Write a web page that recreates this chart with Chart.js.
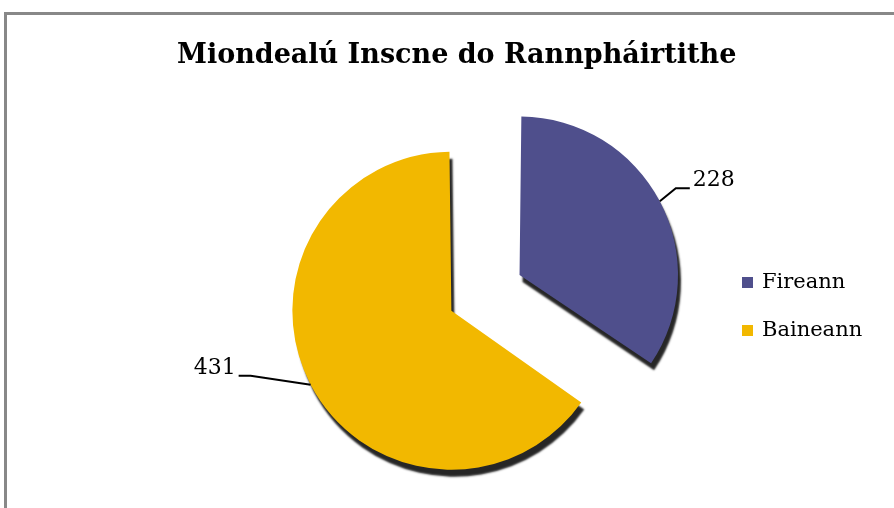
<!DOCTYPE html>
<html>
<head>
<meta charset="utf-8">
<script src="https://cdn.jsdelivr.net/npm/chart.js@4.4.0/dist/chart.umd.min.js"></script>
<style>
html, body { margin: 0; padding: 0; overflow: hidden; background: #fff; }
#frame { position: absolute; left: 4px; top: 12px; width: 1000px; height: 600px;
         border-left: 3px solid #888; border-top: 3px solid #888; }
#pieChart { position: absolute; left: 0; top: 0; }
</style>
</head>
<body>
<div id="frame"></div>
<canvas id="pieChart" width="894" height="550"></canvas>
<script>
"use strict";

var chartTitle = "Miondealú Inscne do Rannpháirtithe";
var categories = ["Fireann", "Baineann"];
var counts = [228, 431];
var colours = ["#4f4f8c", "#f2b800"];

var serif = "'DejaVu Serif', serif";

// dark drop shadow under the slices (stands in for the 3D edge)
var shadowPlugin = {
    id: 'pieShadow',
    beforeDatasetDraw: function (chart) {
        var ctx = chart.ctx;
        ctx.save();
        ctx.shadowColor = 'rgba(0,0,0,0.85)';
        ctx.shadowOffsetX = 3;
        ctx.shadowOffsetY = 7;
        ctx.shadowBlur = 2;
    },
    afterDatasetDraw: function (chart) {
        chart.ctx.restore();
    }
};

// value labels with bent leader lines
// (follows the arc's own offset maths: shift = offset/4, radius grows for wide slices)
var labelPlugin = {
    id: 'leaderLabels',
    afterDatasetsDraw: function (chart, args, opts) {
        var ctx = chart.ctx;
        var meta = chart.getDatasetMeta(0);
        ctx.save();
        ctx.strokeStyle = '#000';
        ctx.fillStyle = '#000';
        ctx.lineWidth = 2;
        ctx.font = opts.font;
        ctx.textBaseline = 'alphabetic';
        meta.data.forEach(function (arc, i) {
            var p = arc.getProps(['x', 'y', 'startAngle', 'endAngle', 'outerRadius', 'circumference']);
            var mid = (p.startAngle + p.endAngle) / 2;
            var off = (arc.options.offset || 0) / 4;
            var r = p.outerRadius + off * (1 - Math.sin(Math.min(Math.PI, p.circumference)));
            var cx = p.x + Math.cos(mid) * off;
            var cy = p.y + Math.sin(mid) * off;
            var x0 = cx + Math.cos(mid) * r;
            var y0 = cy + Math.sin(mid) * r;
            var side = Math.cos(mid) >= 0 ? 1 : -1;
            var bend = opts.bends[i];
            var x1 = x0 + side * bend[0], y1 = y0 + bend[1];
            var x2 = x1 + side * bend[2];
            ctx.beginPath();
            ctx.moveTo(x0, y0);
            ctx.lineTo(x1, y1);
            ctx.lineTo(x2, y1);
            ctx.stroke();
            ctx.textAlign = side > 0 ? 'left' : 'right';
            ctx.fillText(String(chart.data.datasets[0].data[i]), x2 + side * 3, y1 - 2);
        });
        ctx.restore();
    }
};

// legend drawn to the right of the pie
var legendPlugin = {
    id: 'sideLegend',
    afterDraw: function (chart, args, opts) {
        var ctx = chart.ctx;
        var ds = chart.data.datasets[0];
        ctx.save();
        ctx.font = opts.font;
        ctx.textBaseline = 'middle';
        ctx.textAlign = 'left';
        chart.data.labels.forEach(function (label, i) {
            var y = opts.y + i * opts.step;
            ctx.fillStyle = ds.backgroundColor[i];
            ctx.fillRect(opts.x, y, 11, 11);
            ctx.fillStyle = '#000';
            ctx.fillText(label, opts.x + 20, y + 6);
        });
        ctx.restore();
    }
};

var ctx_pie = document.getElementById("pieChart").getContext("2d");

var myPieChart = new Chart(ctx_pie, {
    type: 'pie',
    data: {
        labels: categories,
        datasets: [{
            data: counts,
            backgroundColor: colours,
            borderWidth: 0,
            offset: [260, 48],
            radius: 147
        }]
    },
    options: {
        responsive: false,
        animation: false,
        events: [],
        layout: { padding: { left: 177, right: 147, top: 0, bottom: 12 } },
        plugins: {
            legend: { display: false },
            tooltip: { enabled: false },
            title: {
                display: true,
                text: chartTitle,
                align: 'start',
                color: '#000',
                font: { family: serif, size: 27, weight: 'bold', lineHeight: 1.2 },
                padding: { top: 40, bottom: 0 }
            },
            leaderLabels: {
                font: "22px " + serif,
                bends: [[16, -13, 14], [60, -9, 12]]
            },
            sideLegend: {
                font: "21px " + serif,
                x: 742, y: 277, step: 48
            }
        }
    },
    plugins: [shadowPlugin, labelPlugin, legendPlugin]
});
</script>
</body>
</html>
